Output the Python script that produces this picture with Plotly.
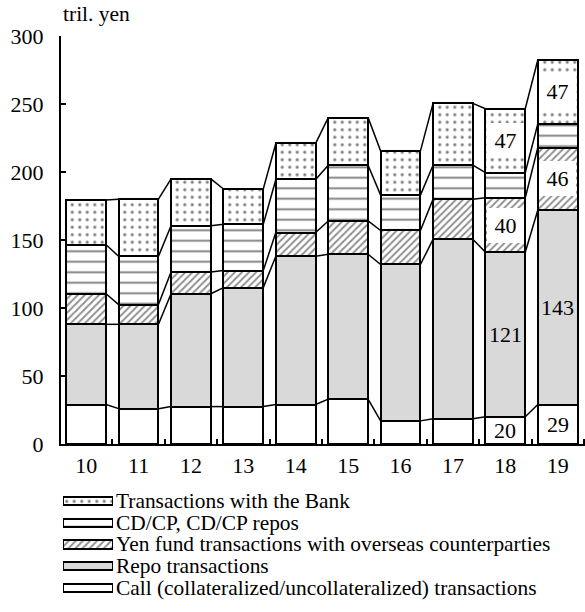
import plotly.graph_objects as go

# ---------------- data ----------------
years = ["10", "11", "12", "13", "14", "15", "16", "17", "18", "19"]
call = [29, 26, 27.5, 27.5, 29, 33, 17, 18.5, 20, 29]
repo = [59, 62, 83, 87.5, 109, 106.5, 115, 132, 121, 143]
overseas = [22.5, 14.5, 16, 12.5, 17.5, 24.5, 25, 29.5, 40, 46]
cdcp = [36, 35.5, 34, 34, 39, 41, 26, 25, 18.5, 17.5]
bank = [33, 42, 34.5, 26, 26.5, 35, 32.5, 45.5, 47, 47]

series_names = [
    "Call (collateralized/uncollateralized) transactions",
    "Repo transactions",
    "Yen fund transactions with overseas counterparties",
    "CD/CP, CD/CP repos",
    "Transactions with the Bank",
]
series_values = [call, repo, overseas, cdcp, bank]

# which bars / series carry value labels, and whether they get a white box
labelled_bars = [8, 9]
label_boxed = [False, False, True, False, True]
label_shown = [True, True, True, False, True]

# ---------------- styles ----------------
FONT = "Liberation Serif"
BAR_W = 0.76
styles = [
    dict(color="white"),
    dict(color="#d9d9d9"),
    dict(color="white", pattern=dict(shape="/", fgcolor="#222222", bgcolor="white",
                                     size=5, solidity=0.4)),
    dict(color="white", pattern=dict(shape="-", fgcolor="black", bgcolor="white",
                                     size=10.5, solidity=0.18, fgopacity=0.5)),
    dict(color="white", pattern=dict(shape=".", fgcolor="black", bgcolor="white",
                                     size=7.5, solidity=0.14)),
]

x = list(range(len(years)))
fig = go.Figure()

# cumulative tops
cum = []
running = [0.0] * len(years)
for vals in series_values:
    running = [r + v for r, v in zip(running, vals)]
    cum.append(running[:])

# series (connector) lines between bars
for tops in cum:
    lx, ly = [], []
    for i in range(len(years) - 1):
        lx += [i + BAR_W / 2, i + 1 - BAR_W / 2, None]
        ly += [tops[i], tops[i + 1], None]
    fig.add_trace(go.Scatter(x=lx, y=ly, mode="lines", line=dict(color="black", width=1.5),
                             showlegend=False, hoverinfo="skip"))

# stacked bars
for name, vals, st in zip(series_names, series_values, styles):
    marker = dict(color=st["color"], line=dict(color="black", width=2))
    if "pattern" in st:
        marker["pattern"] = st["pattern"]
    fig.add_trace(go.Bar(x=x, y=vals, name=name, width=BAR_W, marker=marker,
                         showlegend=False))

# value labels
for k, vals in enumerate(series_values):
    if not label_shown[k]:
        continue
    for i in labelled_bars:
        base = cum[k][i] - vals[i]
        mid = base + vals[i] / 2
        ann = dict(x=i, y=mid, xref="x", yref="y", text=f"{vals[i]:g}", showarrow=False,
                   font=dict(family=FONT, size=22, color="black"))
        if label_boxed[k]:
            ann.update(bgcolor="white", width=37, height=35, borderpad=0, borderwidth=0)
        fig.add_annotation(**ann)

# custom legend drawn as swatch bars on a second set of axes
leg_order = list(range(len(series_names)))[::-1]  # Bank on top
for row, k in enumerate(leg_order):
    st = styles[k]
    marker = dict(color=st["color"], line=dict(color="black", width=2))
    if "pattern" in st:
        marker["pattern"] = st["pattern"]
    fig.add_trace(go.Bar(x=[1], y=[row], orientation="h", width=0.37, marker=marker,
                         text=[series_names[k]], textposition="outside",
                         constraintext="none", cliponaxis=False,
                         textfont=dict(family=FONT, size=21.4, color="black"),
                         xaxis="x2", yaxis="y2", showlegend=False, hoverinfo="skip"))

fig.add_annotation(x=0, y=1, xref="paper", yref="paper", xanchor="left", yanchor="bottom",
                   text="tril. yen", showarrow=False, yshift=8,
                   font=dict(family=FONT, size=21.5, color="black"))

fig.update_layout(
    width=585, height=612,
    margin=dict(l=61, r=0, t=36, b=10, autoexpand=False),
    barmode="stack",
    paper_bgcolor="white", plot_bgcolor="white",
    showlegend=False,
    font=dict(family=FONT, size=21, color="black"),
    xaxis=dict(range=[-0.48, 9.52], tickmode="array", tickvals=x, ticktext=years,
               ticks="", showline=True, linecolor="black", linewidth=2,
               showgrid=False, zeroline=False, ticklabelstandoff=1, automargin=False,
               minor=dict(tickmode="array", tickvals=[i + 0.5 for i in x], ticks="inside",
                          ticklen=5, tickwidth=1.5, tickcolor="black", showgrid=False),
               tickfont=dict(family=FONT, size=22, color="black")),
    yaxis=dict(domain=[0.27915, 1], range=[0, 300], dtick=50, ticks="inside", ticklen=5,
               tickwidth=2, tickcolor="black", showline=True, linecolor="black",
               linewidth=2, showgrid=False, zeroline=False, ticklabelstandoff=11,
               automargin=False,
               tickfont=dict(family=FONT, size=22, color="black")),
    xaxis2=dict(domain=[0.0038, 0.0992], range=[0, 1], anchor="y2", visible=False,
                automargin=False),
    yaxis2=dict(domain=[0.0055, 0.1977], range=[4.5, -0.5], anchor="x2", visible=False,
                automargin=False),
)

fig.write_html("out.html", config={"displayModeBar": False},
               post_script="document.body.style.margin='0';")
